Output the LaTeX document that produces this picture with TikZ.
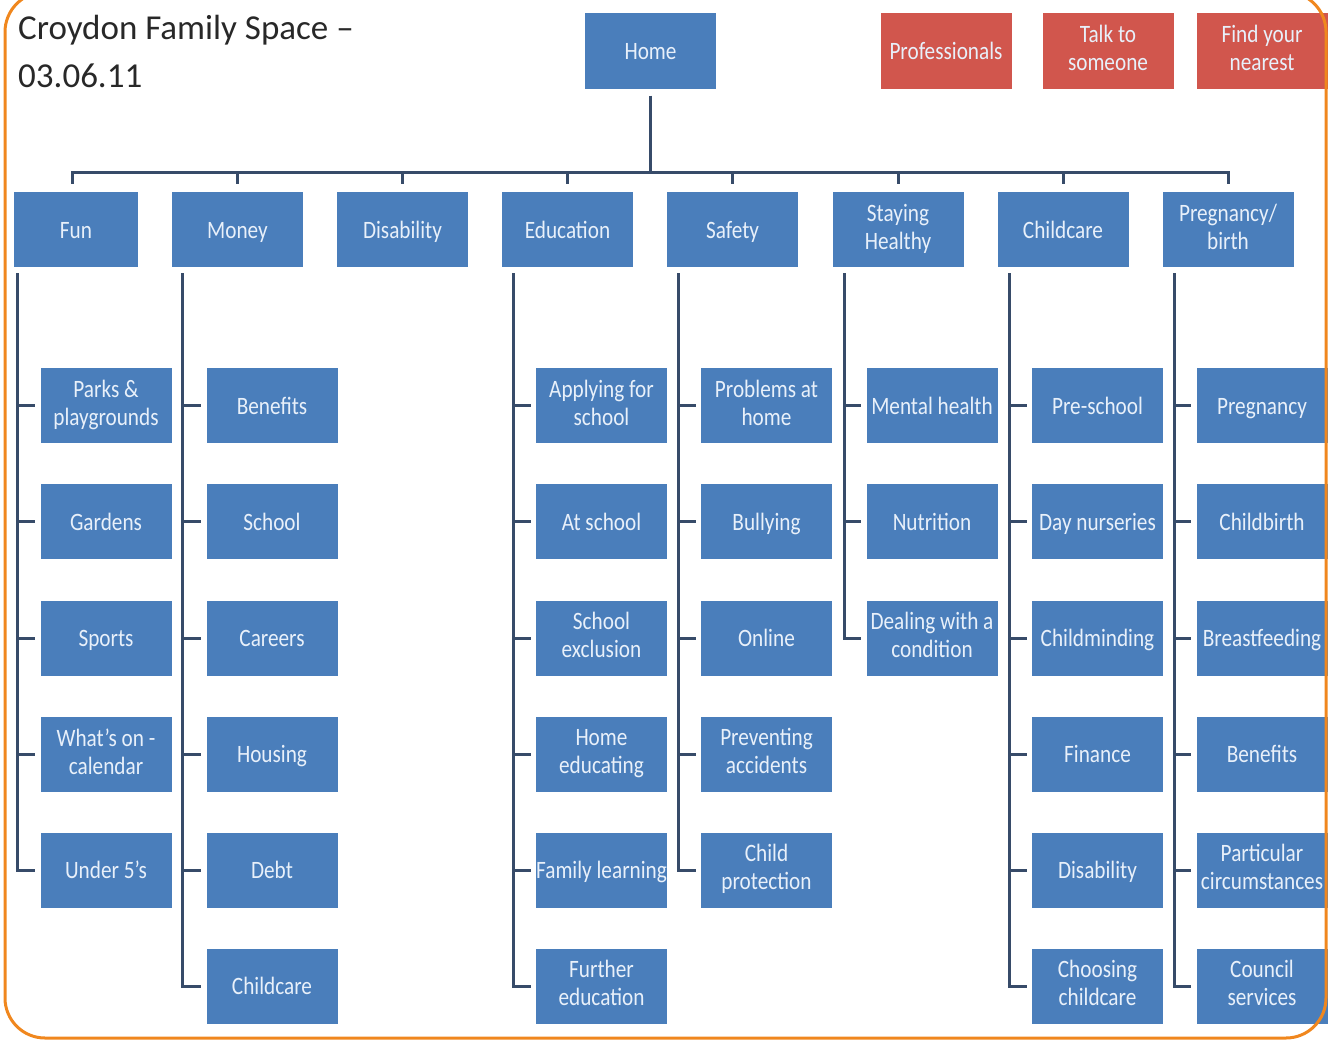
\documentclass[tikz,border=0pt]{standalone}
\usepackage{fontspec}
\setmainfont{Carlito}
\newfontfamily\boxfont[FakeStretch=0.85]{Carlito}
\usetikzlibrary{positioning, calc}
\definecolor{BoxBlue}{RGB}{74,126,187}
\definecolor{BoxRed}{RGB}{209,86,77}
\definecolor{BoxText}{RGB}{232,240,250}
\definecolor{LinkDG}{RGB}{55,75,105}
\definecolor{FrameOr}{RGB}{240,135,30}
\definecolor{TitleDG}{RGB}{40,40,40}
\tikzset{
  page/.style={x=1pt, y=-1pt},
  box/.style={rectangle, fill=BoxBlue, text=BoxText, inner sep=0pt,
    minimum width=131pt, minimum height=75pt, align=center,
    font=\boxfont\fontsize{25}{28}\selectfont,
    execute at begin node={\rule{0pt}{22.6pt}},
    execute at end node={\rule[-5.4pt]{0pt}{5.4pt}}},
  redbox/.style={box, fill=BoxRed},
  link/.style={LinkDG, line width=3pt},
}

\begin{document}
\begin{tikzpicture}[page]
\useasboundingbox (0,0) rectangle (1330,1041);

% title
\node[anchor=base west, inner sep=0pt, text=TitleDG, align=left,
  font=\fontsize{35}{48}\selectfont] (title) at (18,88)
  {Croydon Family Space –\\03.06.11};

% top row
\node[box]    (home) at (650.5,51) {Home};
\node[redbox] (prof) at (946,51)   {Professionals};
\node[redbox] (talk) at (1108,51)  {Talk to\\someone};
\node[redbox] (find) at (1262,51)  {Find your\\nearest};

% categories
\node[box, minimum width=124pt] (fun) at (76,229.5) {Fun};
\node[box] (money) at (237.5,229.5) {Money};
\node[box] (disab) at (402.5,229.5) {Disability};
\node[box] (edu)   at (567.5,229.5) {Education};
\node[box] (safe)  at (732.5,229.5) {Safety};
\node[box] (heal)  at (898,229.5)   {Staying\\Healthy};
\node[box] (care)  at (1063,229.5)  {Childcare};
\node[box] (preg)  at (1228,229.5)  {Pregnancy/\\birth};

\coordinate (bus) at (650.5,172);
\draw[link, shorten <=7pt] (home.south) -- (bus);
\draw[link, line cap=rect] ([xshift=-4pt]fun.north |- bus) -- (preg.north |- bus);
\draw[link, shorten >=8pt] ([xshift=-4pt]fun.north |- bus) -- ([xshift=-4pt]fun.north);
\foreach \c in {money,disab,edu,safe,heal,care,preg}
  \draw[link, shorten >=8pt] (\c.north |- bus) -- (\c.north);

% Fun
\node[box] (f1) at (106,405.5) {Parks \&\\playgrounds};
\node[box] (f2) at (106,521.5) {Gardens};
\node[box] (f3) at (106,638)   {Sports};
\node[box] (f4) at (106,754)   {What’s on -\\calendar};
\node[box] (f5) at (106,870)   {Under 5’s};

% Money
\node[box] (m1) at (272,405.5) {Benefits};
\node[box] (m2) at (272,521.5) {School};
\node[box] (m3) at (272,638)   {Careers};
\node[box] (m4) at (272,754)   {Housing};
\node[box] (m5) at (272,870)   {Debt};
\node[box] (m6) at (272,986)   {Childcare};

% Education
\node[box] (e1) at (601.5,405.5) {Applying for\\school};
\node[box] (e2) at (601.5,521.5) {At school};
\node[box] (e3) at (601.5,638)   {School\\exclusion};
\node[box] (e4) at (601.5,754)   {Home\\educating};
\node[box] (e5) at (601.5,870)   {Family learning};
\node[box] (e6) at (601.5,986)   {Further\\education};

% Safety
\node[box] (s1) at (766.5,405.5) {Problems at\\home};
\node[box] (s2) at (766.5,521.5) {Bullying};
\node[box] (s3) at (766.5,638)   {Online};
\node[box] (s4) at (766.5,754)   {Preventing\\accidents};
\node[box] (s5) at (766.5,870)   {Child\\protection};

% Staying healthy
\node[box] (h1) at (932,405.5) {Mental health};
\node[box] (h2) at (932,521.5) {Nutrition};
\node[box] (h3) at (932,638)   {Dealing with a\\condition};

% Childcare
\node[box] (c1) at (1097.5,405.5) {Pre-school};
\node[box] (c2) at (1097.5,521.5) {Day nurseries};
\node[box] (c3) at (1097.5,638)   {Childminding};
\node[box] (c4) at (1097.5,754)   {Finance};
\node[box] (c5) at (1097.5,870)   {Disability};
\node[box] (c6) at (1097.5,986)   {Choosing\\childcare};

% Pregnancy / birth
\node[box] (p1) at (1262,405.5) {Pregnancy};
\node[box] (p2) at (1262,521.5) {Childbirth};
\node[box] (p3) at (1262,638)   {Breastfeeding};
\node[box] (p4) at (1262,754)   {Benefits};
\node[box] (p5) at (1262,870)   {Particular\\circumstances};
\node[box] (p6) at (1262,986)   {Council\\services};

% spines
\coordinate (fspine) at ($(fun.south west)+(4,6)$);
\coordinate (mspine) at ($(money.south west)+(11,6)$);
\coordinate (espine) at ($(edu.south west)+(12,6)$);
\coordinate (sspine) at ($(safe.south west)+(12,6)$);
\coordinate (hspine) at ($(heal.south west)+(12,6)$);
\coordinate (cspine) at ($(care.south west)+(12,6)$);
\coordinate (pspine) at ($(preg.south west)+(12,6)$);

\draw[link] (fspine) |- ([xshift=-5pt]f5.west);
\draw[link] (mspine) |- ([xshift=-5pt]m6.west);
\draw[link] (espine) |- ([xshift=-5pt]e6.west);
\draw[link] (sspine) |- ([xshift=-5pt]s5.west);
\draw[link] (hspine) |- ([xshift=-5pt]h3.west);
\draw[link] (cspine) |- ([xshift=-5pt]c6.west);
\draw[link] (pspine) |- ([xshift=-5pt]p6.west);

% ticks
\foreach \i in {1,...,4}
  \draw[link] (fspine |- f\i.west) -- ([xshift=-5pt]f\i.west);
\foreach \i in {1,...,5} {
  \draw[link] (mspine |- m\i.west) -- ([xshift=-5pt]m\i.west);
  \draw[link] (espine |- e\i.west) -- ([xshift=-5pt]e\i.west);
  \draw[link] (cspine |- c\i.west) -- ([xshift=-5pt]c\i.west);
  \draw[link] (pspine |- p\i.west) -- ([xshift=-5pt]p\i.west);
}
\foreach \i in {1,...,4}
  \draw[link] (sspine |- s\i.west) -- ([xshift=-5pt]s\i.west);
\foreach \i in {1,2}
  \draw[link] (hspine |- h\i.west) -- ([xshift=-5pt]h\i.west);

% frame
\draw[FrameOr, line width=3pt, rounded corners=40pt] (5,-8) rectangle (1326,1038);
\end{tikzpicture}
\end{document}
